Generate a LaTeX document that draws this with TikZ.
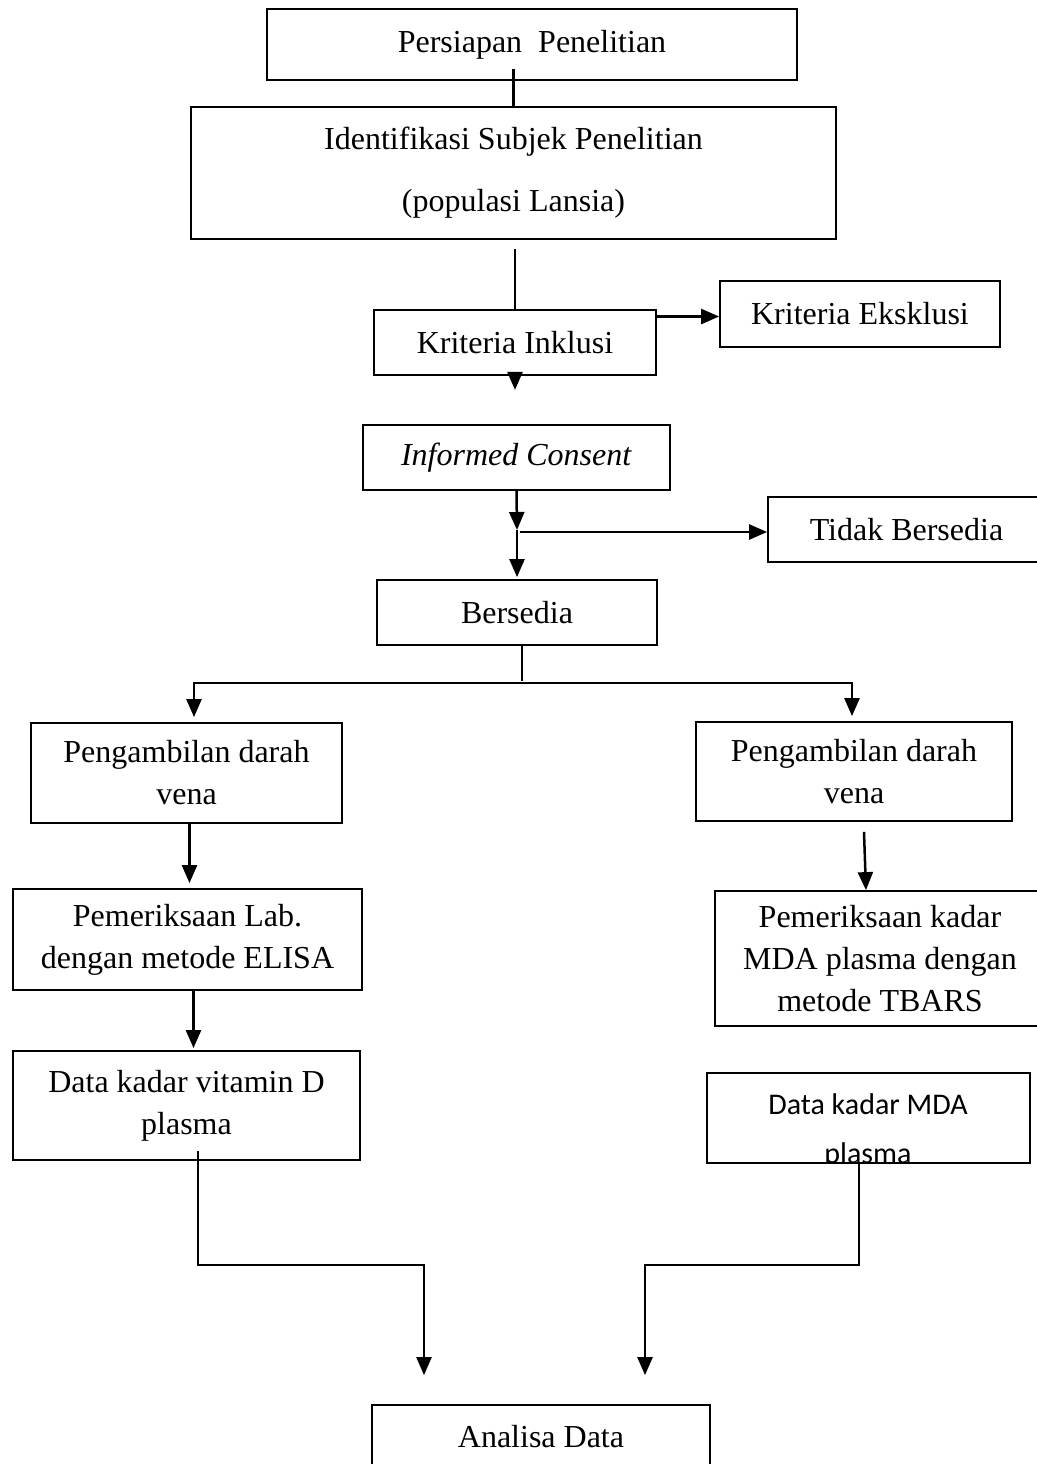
\documentclass[tikz,border=0pt]{standalone}
\usepackage{fontspec}
\setmainfont{Liberation Serif}
\newfontfamily\calibri{Carlito}
\usetikzlibrary{arrows.meta}

\begin{document}
\begin{tikzpicture}[x=0.5pt, y=-0.5pt, line width=1.25pt,
    >={Triangle[width=7.5pt, length=9pt]}]
      \useasboundingbox (0,0) rectangle (1037,1464);
      \clip (0,0) rectangle (1037,1464);

      {\tikzstyle{every node}=[draw, line width=0.9pt, align=center, inner sep=0pt,
          font=\fontsize{16}{21}\selectfont]
        \node[minimum width=265pt, minimum height=35.5pt] (persiapan) at (532, 44.5) {Persiapan\ \ Penelitian};
        \node[minimum width=322.5pt, minimum height=66pt] (ident) at (513.5, 173) {Identifikasi Subjek Penelitian\\[10pt](populasi Lansia)};
        \node[minimum width=141pt, minimum height=32.5pt] (inklusi) at (515, 342.5) {Kriteria Inklusi};
        \node[minimum width=140pt, minimum height=33pt] (eksklusi) at (860, 314) {Kriteria Eksklusi};
        \node[minimum width=153.5pt, minimum height=32.5pt] (consent) at (516.5, 457.5) {\textit{Informed Consent}};
        \node[minimum width=138.5pt, minimum height=32.5pt] (tidak) at (906.5, 529.5) {Tidak Bersedia};
        \node[minimum width=140pt, minimum height=32.5pt] (bersedia) at (517, 612.5) {Bersedia};

        \node[minimum width=155.5pt, minimum height=50pt] (ambilL) at (186.5, 773) {Pengambilan darah\\vena};
        \node[minimum width=158pt, minimum height=49.5pt] (ambilR) at (854, 771.5) {Pengambilan darah\\vena};
        \node[minimum width=174.5pt, minimum height=50.5pt] (labL) at (187.5, 939.5) {Pemeriksaan Lab.\\dengan metode ELISA};
        \node[minimum width=165pt, minimum height=67.5pt] (mdaR) at (880, 958.5) {Pemeriksaan kadar\\MDA plasma dengan\\metode TBARS};
        \node[minimum width=173.5pt, minimum height=54.5pt] (vitD) at (186.5, 1105.5) {Data kadar vitamin D\\plasma};
        \node[minimum width=161.5pt, minimum height=45pt] (mdaData) at (868.5, 1118) {};
        \node[minimum width=169pt, minimum height=31.5pt] (analisa) at (541, 1436.5) {Analisa Data};
      }

      % text of the MDA data box runs past its lower edge
      \begin{scope}
        \clip (707,1073) rectangle (1030,1161);
        \node[align=center, font=\calibri\fontsize{15}{24.5}\selectfont] (mdatext) at (868, 1131) {Data kadar MDA\\plasma};
      \end{scope}

      \coordinate (split) at (517, 530);
      \coordinate (forkL) at (194, 683);
      \coordinate (forkR) at (852, 683);
      \coordinate (inL) at (424, 1265);
      \coordinate (inR) at (645, 1265);

      \draw
        ([yshift=6pt]persiapan.south -| ident.north) -- (ident.north)
        ([yshift=-4.5pt]ident.south -| inklusi.north) -- (inklusi.north)
        (522, 646) -- (522, 681);

      \draw [->]
        ([yshift=13pt]inklusi.east) -- ([yshift=13pt]inklusi.east -| eksklusi.west);
      \draw [->] (inklusi.south) -- ++(0, 14);

      \draw [->] (consent.south) -- (split);
      \draw [->, shorten >=1pt] (split) -- (bersedia.north);
      \draw [->] ([xshift=1.5pt, yshift=-1pt]split) -- ([yshift=-1pt]split -| tidak.west);

      \draw [<->, shorten <=2.5pt, shorten >=2.5pt]
        (forkL |- ambilL.north) -- (forkL) -- (forkR) -- (forkR |- ambilR.north);

      \draw [->, shorten >=2.5pt] ([xshift=1.5pt]ambilL.south) -- ([xshift=1.5pt]ambilL.south |- labL.north);
      \draw [->]
        ([xshift=5pt, yshift=-5pt]ambilR.south) -- ([xshift=6pt]ambilR.south |- mdaR.north);
      \draw [->, shorten >=1pt] ([xshift=3pt]labL.south) -- ([xshift=3pt]labL.south |- vitD.north);

      \draw [->, shorten >=14.5pt] ([xshift=5.75pt, yshift=5pt]vitD.south) |- (inL) -- (inL |- analisa.north);
      \draw [->, shorten >=14.5pt] ([xshift=-4.75pt]mdaData.south) |- (inR) -- (inR |- analisa.north);
\end{tikzpicture}
\end{document}
